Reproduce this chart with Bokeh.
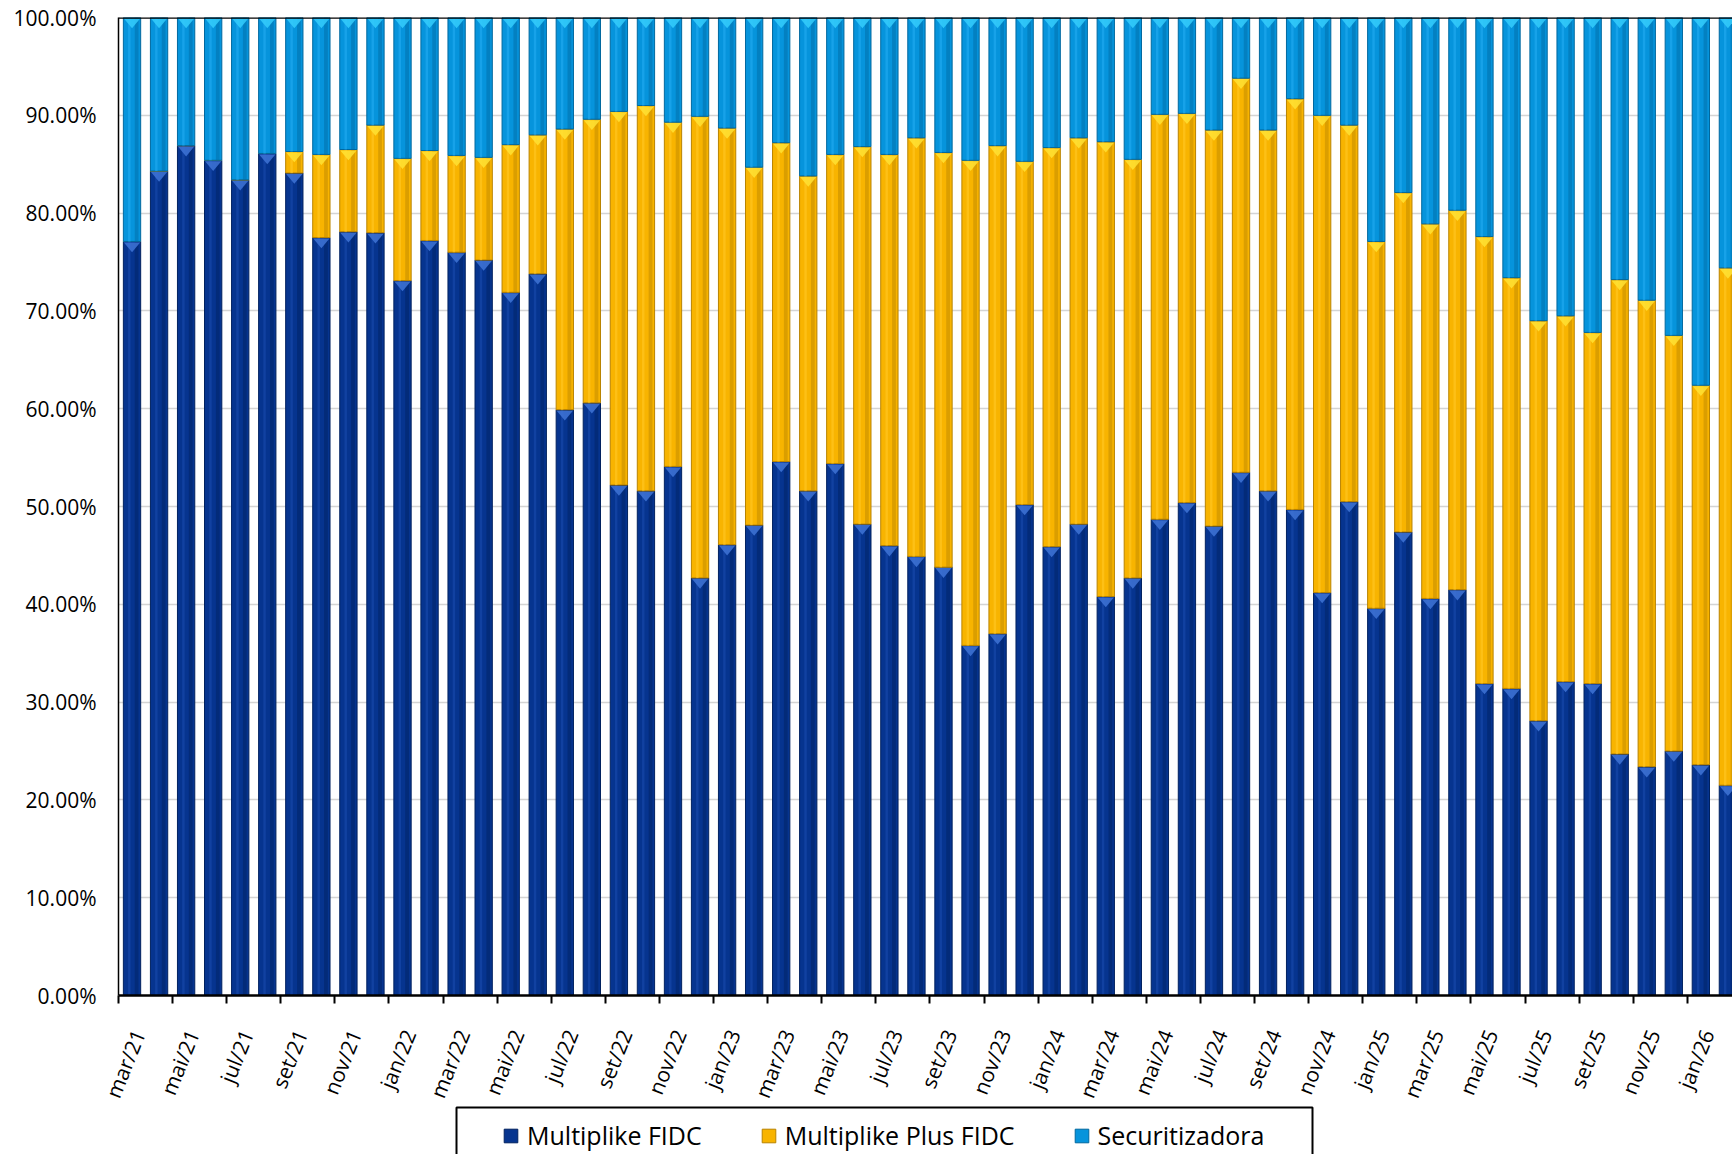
from bokeh.plotting import figure
from bokeh.layouts import column
from bokeh.models import (FixedTicker, NumeralTickFormatter, Range1d, Span,
                          Legend, LegendItem, ColumnDataSource)
from bokeh.embed import file_html
from bokeh.resources import INLINE

# ---------------- data (percent of total) ----------------
months = ["mar/21", "abr/21", "mai/21", "jun/21", "jul/21", "ago/21", "set/21", "out/21", "nov/21", "dez/21",
          "jan/22", "fev/22", "mar/22", "abr/22", "mai/22", "jun/22", "jul/22", "ago/22", "set/22", "out/22",
          "nov/22", "dez/22", "jan/23", "fev/23", "mar/23", "abr/23", "mai/23", "jun/23", "jul/23", "ago/23",
          "set/23", "out/23", "nov/23", "dez/23", "jan/24", "fev/24", "mar/24", "abr/24", "mai/24", "jun/24",
          "jul/24", "ago/24", "set/24", "out/24", "nov/24", "dez/24", "jan/25", "fev/25", "mar/25", "abr/25",
          "mai/25", "jun/25", "jul/25", "ago/25", "set/25", "out/25", "nov/25", "dez/25", "jan/26", "fev/26"]

multiplike_fidc = [77.1, 84.3, 86.9, 85.4, 83.4, 86.1, 84.1, 77.5, 78.1, 78.0,
                   73.1, 77.2, 76.0, 75.2, 71.9, 73.8, 59.9, 60.6, 52.2, 51.6,
                   54.1, 42.7, 46.1, 48.1, 54.6, 51.6, 54.4, 48.2, 46.0, 44.9,
                   43.8, 35.8, 37.0, 50.2, 45.9, 48.2, 40.8, 42.7, 48.7, 50.4,
                   48.0, 53.5, 51.6, 49.7, 41.2, 50.5, 39.6, 47.4, 40.6, 41.5,
                   31.9, 31.4, 28.1, 32.1, 31.9, 24.7, 23.4, 25.0, 23.6, 21.5]

multiplike_plus_fidc = [0.0, 0.0, 0.0, 0.0, 0.0, 0.0, 2.2, 8.5, 8.4, 11.0,
                        12.5, 9.2, 9.9, 10.5, 15.1, 14.2, 28.7, 29.0, 38.2, 39.4,
                        35.2, 47.2, 42.6, 36.6, 32.6, 32.2, 31.6, 38.6, 40.0, 42.8,
                        42.4, 49.6, 49.9, 35.1, 40.8, 39.5, 46.5, 42.8, 41.4, 39.8,
                        40.5, 40.3, 36.9, 42.0, 48.8, 38.5, 37.5, 34.7, 38.3, 38.8,
                        45.7, 42.0, 40.9, 37.4, 35.9, 48.5, 47.7, 42.5, 38.8, 52.9]

securitizadora = [22.9, 15.7, 13.1, 14.6, 16.6, 13.9, 13.7, 14.0, 13.5, 11.0,
                  14.4, 13.6, 14.1, 14.3, 13.0, 12.0, 11.4, 10.4, 9.6, 9.0,
                  10.7, 10.1, 11.3, 15.3, 12.8, 16.2, 14.0, 13.2, 14.0, 12.3,
                  13.8, 14.6, 13.1, 14.7, 13.3, 12.3, 12.7, 14.5, 9.9, 9.8,
                  11.5, 6.2, 11.5, 8.3, 10.0, 11.0, 22.9, 17.9, 21.1, 19.7,
                  22.4, 26.6, 31.0, 30.5, 32.2, 26.8, 28.9, 32.5, 37.6, 25.6]

series_names = ["Multiplike FIDC", "Multiplike Plus FIDC", "Securitizadora"]
y_ticks = [0.0, 0.1, 0.2, 0.3, 0.4, 0.5, 0.6, 0.7, 0.8, 0.9, 1.0]

# colours: (main, edge/dark, highlight, bevel-top)
palette = [("#06348f", "#00215f", "#1747a8", "#3f74d6"),
           ("#f8b400", "#b98300", "#ffc520", "#ffe234"),
           ("#0694dc", "#00689f", "#1fa8ee", "#35cdfc")]

FONT = "Open Sans"
W = 1732
H1 = 1122          # main figure height (frame 17..995)
OVERLAP = 18       # legend strip pulled up over the empty bottom of the main figure
LH = 50            # legend strip height

# ---------------- main figure ----------------
n = len(months)
xs = list(range(n))

p = figure(width=W, height=H1, x_range=Range1d(-0.5, 59.17), y_range=Range1d(0, 1),
           output_backend="svg", toolbar_location=None,
           min_border_left=118, min_border_right=0, min_border_top=17,
           min_border_bottom=H1 - 17 - 978)
p.outline_line_color = None
p.background_fill_color = "white"
p.border_fill_color = "white"

p.xgrid.grid_line_color = None
p.ygrid.ticker = FixedTicker(ticks=y_ticks)
p.ygrid.grid_line_color = "#d4d4d4"
p.ygrid.grid_line_width = 1.6

# y axis
p.yaxis.ticker = FixedTicker(ticks=y_ticks)
p.yaxis.formatter = NumeralTickFormatter(format="0.00%")
p.yaxis.major_label_text_font = FONT
p.yaxis.major_label_text_font_size = "21px"
p.yaxis.major_label_text_color = "black"
p.yaxis.major_tick_out = 0
p.yaxis.major_tick_in = 0
p.yaxis.minor_tick_out = 0
p.yaxis.minor_tick_in = 0
p.yaxis.axis_line_color = "black"
p.yaxis.axis_line_width = 1.5
p.yaxis.major_label_standoff = 22

# x axis: labels anchored every 2 months, tick marks (minor) at category boundaries
label_pos = [i + 0.25 for i in range(0, n, 2)]
boundary_ticks = [-0.5 + 2 * k for k in range(30)]
xa = p.xaxis[0]
xa.ticker = FixedTicker(ticks=label_pos, minor_ticks=boundary_ticks)
xa.major_label_overrides = {i + 0.25: months[i] for i in range(0, n, 2)}
xa.major_label_orientation = 1.187
xa.major_label_text_font = FONT
xa.major_label_text_font_size = "21px"
xa.major_label_text_color = "black"
xa.major_label_standoff = 27
xa.major_tick_out = 0
xa.major_tick_in = 0
xa.minor_tick_out = 8
xa.minor_tick_in = 0
xa.minor_tick_line_width = 2
xa.minor_tick_line_color = "black"
xa.axis_line_color = "black"
xa.axis_line_width = 2.5

# ---------------- stacked bars ----------------
bottoms = [0.0] * n
for name, vals, (main, dark, light, bevel) in zip(series_names,
                                                  [multiplike_fidc, multiplike_plus_fidc, securitizadora],
                                                  palette):
    tops = [b + v / 100.0 for b, v in zip(bottoms, vals)]
    src = ColumnDataSource(dict(x=xs, bottom=bottoms, top=tops,
                                xr=[x + 0.17 for x in xs], xl=[x - 0.1 for x in xs]))
    p.vbar(x="x", width=0.64, bottom="bottom", top="top", source=src,
           fill_color=main, line_color=dark, line_width=1)
    p.vbar(x="xr", width=0.14, bottom="bottom", top="top", source=src,
           fill_color=dark, fill_alpha=0.45, line_color=None)
    p.vbar(x="xl", width=0.09, bottom="bottom", top="top", source=src,
           fill_color=light, fill_alpha=0.7, line_color=None)
    # bevel roof triangles on each segment's top
    tx, ty = [], []
    for x, b, t in zip(xs, bottoms, tops):
        if t - b > 0.012:
            tx.append([x - 0.3, x + 0.3, x])
            ty.append([t - 0.001, t - 0.001, t - 0.011])
    p.patches(tx, ty, fill_color=bevel, fill_alpha=0.85, line_color=None)
    bottoms = tops

# top border line of plot area
p.add_layout(Span(location=1.0, dimension="width", line_color="black", line_width=2.5))

# ---------------- legend strip (bottom, box cut by the page edge) ----------------
p2 = figure(width=W, height=LH, x_range=Range1d(118, W), y_range=Range1d(0, LH),
            output_backend="svg", toolbar_location=None,
            x_axis_location=None, y_axis_location=None, min_border=0)
p2.margin = (-OVERLAP, 0, 0, 0)
p2.outline_line_color = None
p2.xgrid.grid_line_color = None
p2.ygrid.grid_line_color = None
p2.background_fill_alpha = 0.0
p2.border_fill_alpha = 0.0

p2.quad(left=[456], right=[1312], top=[LH - 3], bottom=[-20],
        fill_color=None, line_color="black", line_width=2)

items = []
for name, (main, dark, light, bevel) in zip(series_names, palette):
    r = p2.vbar(x=[-5000], width=1, top=[0], bottom=[0], fill_color=main, line_color=dark, line_width=1)
    items.append(LegendItem(label=name, renderers=[r]))

legend = Legend(items=items)
legend.orientation = "horizontal"
legend.location = (384, 2)
legend.border_line_color = None
legend.background_fill_alpha = 0.0
legend.label_text_font = FONT
legend.label_text_font_size = "25px"
legend.label_text_color = "black"
legend.glyph_width = 17
legend.glyph_height = 17
legend.label_standoff = 8
legend.spacing = 58
legend.padding = 0
legend.margin = 0
p2.add_layout(legend, "center")

open("out.html", "w").write(file_html(column(p, p2, spacing=0), INLINE))
